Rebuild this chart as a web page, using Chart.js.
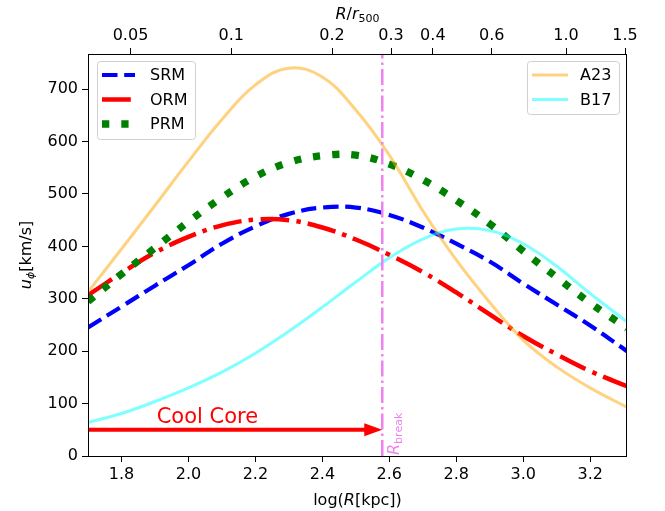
<!DOCTYPE html>
<html>
<head>
<meta charset="utf-8">
<script src="https://cdn.jsdelivr.net/npm/chart.js@4.4.0/dist/chart.umd.min.js"></script>
<style>
  html, body { margin: 0; padding: 0; background: #fff; }
  #wrap { width: 665px; height: 511px; }
</style>
</head>
<body>
<div id="wrap"><canvas id="chart" width="665" height="511"></canvas></div>
<script>
// log(R[kpc]) sample points and the curves (km/s)
const logR = [1.70, 1.80, 1.90, 2.00, 2.10, 2.20, 2.30, 2.40, 2.50, 2.60, 2.70, 2.80, 2.90, 3.00, 3.10, 3.20, 3.31];
const srm = [245, 285, 325, 364, 405, 438, 462, 474, 474, 460, 436, 405, 371, 329, 289, 249, 200];
const orm = [307, 349, 388, 418, 440, 451, 450, 436, 413, 384, 351, 312, 270, 229, 194, 162, 133];
const prm = [295, 347, 397, 447, 493, 533, 560, 573, 574, 557, 527, 488, 443, 391, 341, 292, 244];
const a23 = [313, 395, 478, 562, 642, 708, 740, 723, 660, 574, 468, 374, 293, 221, 170, 130, 93];
const b17 = [64, 81, 104, 130, 160, 196, 238, 284, 332, 378, 414, 433, 430, 405, 362, 310, 256];

const xTicks = [1.8, 2.0, 2.2, 2.4, 2.6, 2.8, 3.0, 3.2];
const yTicks = [0, 100, 200, 300, 400, 500, 600, 700];
const topTicks = [0.05, 0.1, 0.2, 0.3, 0.4, 0.6, 1.0, 1.5];
const topTickLabels = ["0.05", "0.1", "0.2", "0.3", "0.4", "0.6", "1.0", "1.5"];

const logR500 = 3.128;   // log(r500 [kpc]) for the top axis
const rBreak = 2.579;    // log(R_break)
const coolCoreY = 50;
const xMin = 1.70, xMax = 3.31, yMax = 767;

const FONT = '"DejaVu Sans", sans-serif';

function pts(ys) {
  return logR.map((x, i) => ({ x: x, y: ys[i] }));
}

function fontStr(p) {
  return (p.italic ? "italic " : "") + p.size + "px " + FONT;
}

function drawRich(ctx, parts, x, y, align) {
  let w = 0;
  parts.forEach((p) => {
    ctx.font = fontStr(p);
    p.w = ctx.measureText(p.t).width;
    w += p.w;
  });
  let cx = align === "center" ? x - w / 2 : x;
  parts.forEach((p) => {
    ctx.font = fontStr(p);
    ctx.fillText(p.t, cx, y + (p.dy || 0));
    cx += p.w;
  });
}

function roundRect(ctx, x, y, w, h, r) {
  ctx.beginPath();
  ctx.moveTo(x + r, y);
  ctx.lineTo(x + w - r, y);
  ctx.quadraticCurveTo(x + w, y, x + w, y + r);
  ctx.lineTo(x + w, y + h - r);
  ctx.quadraticCurveTo(x + w, y + h, x + w - r, y + h);
  ctx.lineTo(x + r, y + h);
  ctx.quadraticCurveTo(x, y + h, x, y + h - r);
  ctx.lineTo(x, y + r);
  ctx.quadraticCurveTo(x, y, x + r, y);
  ctx.closePath();
}

function drawLegend(ctx, box, entries) {
  ctx.save();
  roundRect(ctx, box.x + 0.5, box.y + 0.5, box.w, box.h, 3);
  ctx.fillStyle = "rgba(255,255,255,0.8)";
  ctx.fill();
  ctx.strokeStyle = "#d0d0d0";
  ctx.lineWidth = 1;
  ctx.stroke();
  entries.forEach((e, i) => {
    const y = box.y + 14 + i * 24.5;
    ctx.strokeStyle = e.color;
    ctx.lineWidth = e.width;
    ctx.setLineDash(e.dash || []);
    ctx.beginPath();
    ctx.moveTo(box.x + 5, y);
    ctx.lineTo(box.x + 5 + box.len, y);
    ctx.stroke();
    ctx.setLineDash([]);
    ctx.fillStyle = "#000";
    ctx.font = "16px " + FONT;
    ctx.textBaseline = "middle";
    ctx.fillText(e.label, box.x + 53, y + 1);
  });
  ctx.restore();
}

const styles = {
  srm: { color: "#0000ff", width: 4.2, dash: [15.5, 6.7] },
  orm: { color: "#ff0000", width: 4.5, dash: [28.8, 7.2, 4.5, 7.2] },
  prm: { color: "#008000", width: 7.3, dash: [7.3, 12] },
  a23: { color: "rgba(255,165,0,0.5)", width: 3, dash: [] },
  b17: { color: "rgba(0,255,255,0.5)", width: 3, dash: [] },
};

const decor = {
  id: "decor",
  afterDatasetsDraw(chart) {
    const { ctx, chartArea: a, scales } = chart;
    const xs = scales.x, ys = scales.y;
    ctx.save();
    // Cool core arrow
    const y0 = ys.getPixelForValue(coolCoreY);
    const xs0 = xs.getPixelForValue(xMin);
    const xTip = xs.getPixelForValue(rBreak);
    ctx.strokeStyle = "#ff0000";
    ctx.fillStyle = "#ff0000";
    ctx.lineWidth = 4;
    ctx.beginPath();
    ctx.moveTo(xs0, y0);
    ctx.lineTo(xTip - 14, y0);
    ctx.stroke();
    ctx.beginPath();
    ctx.moveTo(xTip, y0);
    ctx.lineTo(xTip - 18, y0 - 6.5);
    ctx.lineTo(xTip - 18, y0 + 6.5);
    ctx.closePath();
    ctx.fill();
    ctx.font = "21px " + FONT;
    ctx.textBaseline = "alphabetic";
    ctx.fillText("Cool Core", xs.getPixelForValue(1.905), ys.getPixelForValue(63));
    // R_break label
    ctx.translate(xTip + 17, a.bottom - 1);
    ctx.rotate(-Math.PI / 2);
    ctx.fillStyle = "violet";
    drawRich(ctx, [
      { t: "R", size: 16, italic: true },
      { t: "break", size: 11, dy: 3 },
    ], 0, 0, "left");
    ctx.restore();
    // frame
    ctx.save();
    ctx.strokeStyle = "#000";
    ctx.lineWidth = 1;
    ctx.strokeRect(Math.round(a.left) + 0.5, Math.round(a.top) + 0.5,
      Math.round(a.right - a.left) - 1, Math.round(a.bottom - a.top));
    ctx.restore();
  },
  afterDraw(chart) {
    const { ctx, chartArea: a } = chart;
    drawLegend(ctx, { x: 97, y: 61, w: 98, h: 78, len: 33 }, [
      Object.assign({ label: "SRM" }, styles.srm),
      Object.assign({ label: "ORM" }, styles.orm),
      Object.assign({ label: "PRM" }, styles.prm),
    ]);
    drawLegend(ctx, { x: 527, y: 61, w: 92, h: 53, len: 36 }, [
      Object.assign({ label: "A23" }, styles.a23),
      Object.assign({ label: "B17" }, styles.b17),
    ]);
    ctx.save();
    ctx.fillStyle = "#000";
    ctx.textBaseline = "alphabetic";
    const cx = (a.left + a.right) / 2;
    drawRich(ctx, [
      { t: "log(", size: 16 },
      { t: "R", size: 16, italic: true },
      { t: "[kpc])", size: 16 },
    ], cx, 505, "center");
    drawRich(ctx, [
      { t: "R", size: 16, italic: true },
      { t: "/", size: 16 },
      { t: "r", size: 16, italic: true },
      { t: "500", size: 11, dy: 3 },
    ], cx, 19, "center");
    ctx.translate(31, (a.top + a.bottom) / 2);
    ctx.rotate(-Math.PI / 2);
    drawRich(ctx, [
      { t: "u", size: 16, italic: true },
      { t: "\u03d5", size: 11, italic: true, dy: 3 },
      { t: "[km/s]", size: 16 },
    ], 0, 0, "center");
    ctx.restore();
  },
};

function line(label, ys, st, order) {
  return {
    label: label,
    data: pts(ys),
    borderColor: st.color,
    borderWidth: st.width,
    borderDash: st.dash,
    borderCapStyle: "butt",
    pointRadius: 0,
    tension: 0.4,
    fill: false,
    order: order,
  };
}

const tickGrid = {
  drawOnChartArea: false,
  drawTicks: true,
  tickLength: 6,
  tickColor: "#000",
  color: "#000",
};

new Chart(document.getElementById("chart"), {
  type: "line",
  data: {
    datasets: [
      line("SRM", srm, styles.srm, 5),
      line("ORM", orm, styles.orm, 4),
      line("PRM", prm, styles.prm, 3),
      line("A23", a23, styles.a23, 2),
      line("B17", b17, styles.b17, 1),
      {
        label: "R_break",
        data: [{ x: rBreak, y: 0 }, { x: rBreak, y: yMax }],
        borderColor: "violet",
        borderWidth: 2.5,
        borderDash: [16, 4, 2.5, 4],
        pointRadius: 0,
        order: 0,
      },
    ],
  },
  options: {
    responsive: false,
    animation: false,
    devicePixelRatio: 1,
    layout: { padding: { left: 0, right: 38, top: 0, bottom: 0 } },
    plugins: { legend: { display: false }, tooltip: { enabled: false } },
    scales: {
      x: {
        type: "linear",
        position: "bottom",
        min: xMin,
        max: xMax,
        grid: tickGrid,
        border: { display: false },
        afterBuildTicks: (axis) => { axis.ticks = xTicks.map((v) => ({ value: v })); },
        afterFit: (axis) => { axis.height = 55; },
        ticks: {
          color: "#000",
          padding: 3,
          maxRotation: 0,
          font: { family: FONT, size: 16 },
          callback: (v) => Number(v).toFixed(1),
        },
      },
      x2: {
        type: "linear",
        position: "top",
        min: xMin,
        max: xMax,
        grid: tickGrid,
        border: { display: false },
        afterBuildTicks: (axis) => {
          axis.ticks = topTicks.map((v) => ({ value: Math.log10(v) + logR500 }));
        },
        afterFit: (axis) => { axis.height = 54; },
        ticks: {
          color: "#000",
          padding: 3,
          maxRotation: 0,
          font: { family: FONT, size: 16 },
          callback: (v, i) => topTickLabels[i],
        },
      },
      y: {
        type: "linear",
        min: 0,
        max: yMax,
        grid: tickGrid,
        border: { display: false },
        afterBuildTicks: (axis) => { axis.ticks = yTicks.map((v) => ({ value: v })); },
        afterFit: (axis) => { axis.width = 88; },
        ticks: {
          color: "#000",
          padding: 4,
          font: { family: FONT, size: 16 },
        },
      },
    },
  },
  plugins: [decor],
});
</script>
</body>
</html>
